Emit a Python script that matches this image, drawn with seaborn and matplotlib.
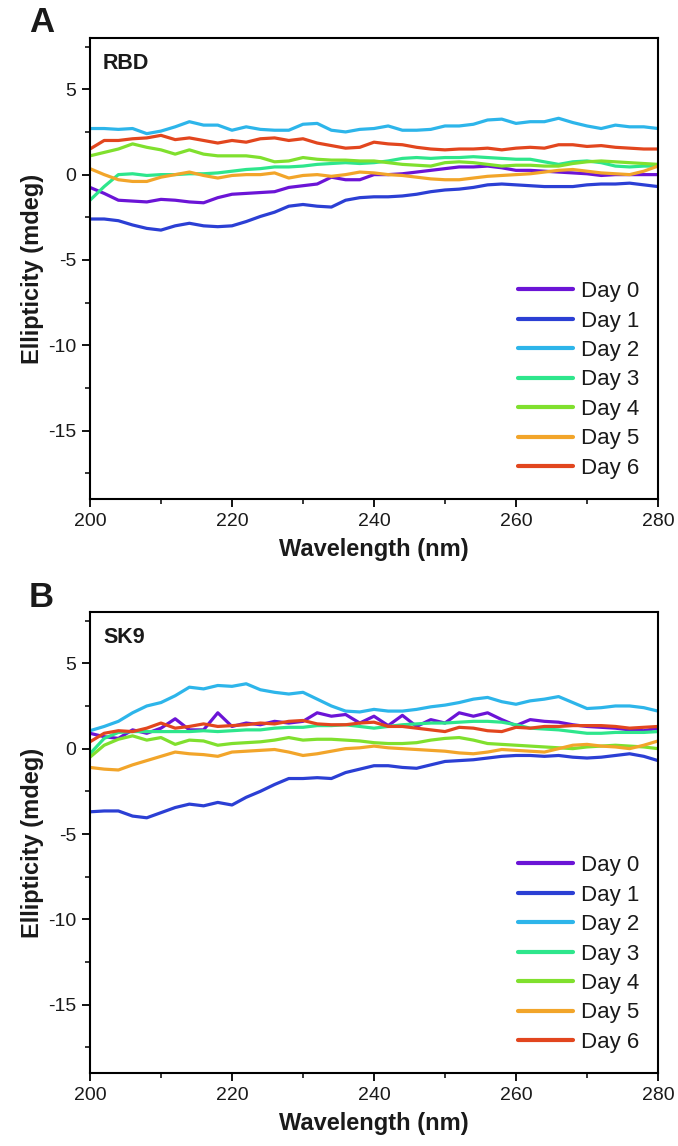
import numpy as np
import pandas as pd
import matplotlib
matplotlib.use("Agg")
import matplotlib.pyplot as plt
import seaborn as sns
from matplotlib.ticker import MultipleLocator

# ---------------- data ----------------
wavelength = list(range(200, 281, 2))
days = ["Day 0", "Day 1", "Day 2", "Day 3", "Day 4", "Day 5", "Day 6"]
colors = ["#6b14d6", "#2b3fd4", "#2db5ea", "#2ee68c", "#80e02e", "#f2a52a", "#e2461e"]

rbd_day0 = [-0.75, -1.1, -1.5, -1.55, -1.6, -1.45, -1.5, -1.6, -1.65, -1.35, -1.15, -1.1, -1.05, -1.0,
            -0.75, -0.65, -0.55, -0.15, -0.3, -0.3, 0.0, 0.0, 0.05, 0.15, 0.25, 0.35, 0.45, 0.45, 0.5,
            0.4, 0.25, 0.25, 0.2, 0.15, 0.1, 0.05, -0.05, 0.0, 0.0, 0.0, 0.0]
rbd_day1 = [-2.6, -2.6, -2.7, -2.95, -3.15, -3.25, -3.0, -2.85, -3.0, -3.05, -3.0, -2.75, -2.45, -2.2,
            -1.85, -1.75, -1.85, -1.9, -1.5, -1.35, -1.3, -1.3, -1.25, -1.15, -1.0, -0.9, -0.85, -0.75,
            -0.6, -0.55, -0.6, -0.65, -0.7, -0.7, -0.7, -0.6, -0.55, -0.55, -0.5, -0.6, -0.7]
rbd_day2 = [2.7, 2.7, 2.65, 2.7, 2.4, 2.55, 2.8, 3.1, 2.9, 2.9, 2.6, 2.8, 2.65, 2.6, 2.6, 2.95, 3.0,
            2.6, 2.5, 2.65, 2.7, 2.85, 2.6, 2.6, 2.65, 2.85, 2.85, 2.95, 3.2, 3.25, 3.0, 3.1, 3.1, 3.3,
            3.05, 2.85, 2.7, 2.9, 2.8, 2.8, 2.7]
rbd_day3 = [-1.5, -0.7, 0.0, 0.05, -0.05, 0.0, 0.0, 0.05, 0.05, 0.1, 0.2, 0.3, 0.35, 0.45, 0.45, 0.5,
            0.6, 0.65, 0.7, 0.65, 0.7, 0.8, 0.95, 1.0, 0.95, 1.0, 1.0, 1.05, 1.0, 0.95, 0.9, 0.9, 0.75,
            0.6, 0.75, 0.8, 0.7, 0.5, 0.45, 0.5, 0.5]
rbd_day4 = [1.1, 1.3, 1.5, 1.8, 1.6, 1.45, 1.2, 1.45, 1.2, 1.1, 1.1, 1.1, 1.0, 0.75, 0.8, 1.0, 0.9,
            0.85, 0.85, 0.8, 0.8, 0.7, 0.6, 0.55, 0.5, 0.7, 0.75, 0.7, 0.6, 0.5, 0.55, 0.55, 0.5, 0.5,
            0.65, 0.75, 0.8, 0.75, 0.7, 0.65, 0.6]
rbd_day5 = [0.35, 0.0, -0.3, -0.4, -0.4, -0.15, 0.0, 0.15, -0.05, -0.2, -0.05, 0.0, 0.0, 0.1, -0.2,
            -0.05, 0.0, -0.1, 0.0, 0.15, 0.1, 0.0, -0.05, -0.15, -0.25, -0.3, -0.3, -0.2, -0.1, -0.05,
            0.0, 0.05, 0.15, 0.25, 0.3, 0.2, 0.1, 0.05, 0.0, 0.2, 0.5]
rbd_day6 = [1.5, 2.0, 2.0, 2.1, 2.15, 2.3, 2.05, 2.15, 2.0, 1.85, 2.0, 1.9, 2.1, 2.15, 2.0, 2.1, 1.85,
            1.7, 1.55, 1.6, 1.9, 1.8, 1.75, 1.6, 1.5, 1.45, 1.5, 1.5, 1.55, 1.45, 1.55, 1.6, 1.55, 1.75,
            1.75, 1.65, 1.7, 1.6, 1.55, 1.5, 1.5]

sk9_day0 = [0.9, 0.7, 0.6, 1.1, 0.9, 1.2, 1.75, 1.1, 1.1, 2.1, 1.3, 1.5, 1.4, 1.6, 1.5, 1.6, 2.1, 1.9,
            2.0, 1.5, 1.9, 1.35, 1.95, 1.3, 1.7, 1.5, 2.1, 1.9, 2.1, 1.7, 1.35, 1.7, 1.6, 1.55, 1.4, 1.3,
            1.25, 1.2, 1.1, 1.05, 1.2]
sk9_day1 = [-3.7, -3.65, -3.65, -3.95, -4.05, -3.75, -3.45, -3.25, -3.35, -3.15, -3.3, -2.85, -2.5,
            -2.1, -1.75, -1.75, -1.7, -1.75, -1.4, -1.2, -1.0, -1.0, -1.1, -1.15, -0.95, -0.75, -0.7,
            -0.65, -0.55, -0.45, -0.4, -0.4, -0.45, -0.4, -0.5, -0.55, -0.5, -0.4, -0.3, -0.45, -0.7]
sk9_day2 = [1.05, 1.3, 1.6, 2.1, 2.5, 2.7, 3.1, 3.6, 3.5, 3.7, 3.65, 3.8, 3.45, 3.3, 3.2, 3.3, 2.9,
            2.5, 2.2, 2.15, 2.3, 2.2, 2.2, 2.3, 2.45, 2.55, 2.7, 2.9, 3.0, 2.75, 2.6, 2.8, 2.9, 3.05,
            2.7, 2.35, 2.4, 2.5, 2.5, 2.4, 2.2]
sk9_day3 = [-0.3, 0.6, 0.95, 1.0, 1.0, 1.0, 1.0, 1.0, 1.05, 1.0, 1.05, 1.1, 1.1, 1.2, 1.25, 1.25, 1.35,
            1.35, 1.4, 1.3, 1.2, 1.3, 1.4, 1.45, 1.5, 1.5, 1.55, 1.6, 1.6, 1.55, 1.4, 1.2, 1.15, 1.1,
            1.0, 0.9, 0.9, 0.95, 0.95, 0.95, 1.0]
sk9_day4 = [-0.5, 0.2, 0.55, 0.75, 0.5, 0.65, 0.25, 0.5, 0.45, 0.2, 0.3, 0.35, 0.4, 0.5, 0.65, 0.5,
            0.55, 0.55, 0.5, 0.45, 0.35, 0.3, 0.3, 0.35, 0.5, 0.6, 0.65, 0.5, 0.3, 0.25, 0.2, 0.15, 0.1,
            0.05, 0.0, 0.1, 0.15, 0.2, 0.15, 0.1, 0.0]
sk9_day5 = [-1.1, -1.2, -1.25, -0.95, -0.7, -0.45, -0.2, -0.3, -0.35, -0.45, -0.2, -0.15, -0.1, -0.05,
            -0.2, -0.4, -0.3, -0.15, 0.0, 0.05, 0.15, 0.05, 0.0, -0.05, -0.1, -0.15, -0.25, -0.3, -0.2,
            -0.05, -0.1, -0.15, -0.2, 0.0, 0.2, 0.25, 0.15, 0.1, 0.0, 0.2, 0.45]
sk9_day6 = [0.4, 0.9, 1.05, 1.0, 1.2, 1.5, 1.2, 1.3, 1.45, 1.3, 1.35, 1.4, 1.5, 1.45, 1.6, 1.65, 1.45,
            1.4, 1.4, 1.5, 1.55, 1.3, 1.3, 1.2, 1.1, 1.0, 1.25, 1.2, 1.05, 1.0, 1.25, 1.2, 1.3, 1.3,
            1.35, 1.35, 1.35, 1.3, 1.2, 1.25, 1.3]

panels = [
    ("A", "RBD", [rbd_day0, rbd_day1, rbd_day2, rbd_day3, rbd_day4, rbd_day5, rbd_day6]),
    ("B", "SK9", [sk9_day0, sk9_day1, sk9_day2, sk9_day3, sk9_day4, sk9_day5, sk9_day6]),
]

# ---------------- style ----------------
sns.set_theme(style="white")
plt.rcParams["font.family"] = ["Liberation Sans", "DejaVu Sans"]
plt.rcParams["axes.unicode_minus"] = False
plt.rcParams["text.color"] = "#1a1a1a"
plt.rcParams["axes.labelcolor"] = "#1a1a1a"

fig = plt.figure(figsize=(6.78, 11.46), dpi=100)
axes_rects = [[0.1327, 0.5646, 0.8378, 0.4022], [0.1327, 0.0637, 0.8378, 0.4022]]
label_y = [0.9805, 0.479]
palette = dict(zip(days, colors))

for i, (letter, name, series) in enumerate(panels):
    ax = fig.add_axes(axes_rects[i])
    frames = []
    for d, vals in zip(days, series):
        frames.append(pd.DataFrame({"Wavelength": wavelength, "Ellipticity": vals, "Day": d}))
    df = pd.concat(frames, ignore_index=True)
    sns.lineplot(data=df, x="Wavelength", y="Ellipticity", hue="Day", hue_order=days,
                 palette=palette, linewidth=2.3, ax=ax, legend=True)

    ax.set_xlim(200, 280)
    ax.set_ylim(-19, 8)
    ax.xaxis.set_major_locator(MultipleLocator(20))
    ax.xaxis.set_minor_locator(MultipleLocator(10))
    ax.yaxis.set_major_locator(MultipleLocator(5))
    ax.yaxis.set_minor_locator(MultipleLocator(2.5))
    ax.tick_params(axis="both", which="major", direction="out", length=6, width=1.3,
                   labelsize=14, colors="black", labelcolor="#1a1a1a", left=True, bottom=True, pad=4)
    ax.tick_params(axis="both", which="minor", direction="out", length=3.5, width=1.1,
                   colors="black", left=True, bottom=True)
    for sp in ax.spines.values():
        sp.set_color("black")
        sp.set_linewidth(1.5)
    ax.set_xlabel("Wavelength (nm)", fontsize=17, fontweight="bold", labelpad=6)
    ax.set_ylabel("Ellipticity (mdeg)", fontsize=17, fontweight="bold", labelpad=3)
    ax.text(0.023, 0.945, name, transform=ax.transAxes, fontsize=15.5, fontweight="bold",
            ha="left", va="center")
    leg = ax.legend(loc="lower right", bbox_to_anchor=(0.995, 0.01), frameon=False,
                    fontsize=16, handlelength=2.5, labelspacing=0.38, handletextpad=0.35,
                    borderaxespad=0.3)
    for line in leg.get_lines():
        line.set_linewidth(3)
    fig.text(0.061, label_y[i], letter, fontsize=25, fontweight="bold", ha="center", va="center")

fig.savefig("out.png", dpi=100)
